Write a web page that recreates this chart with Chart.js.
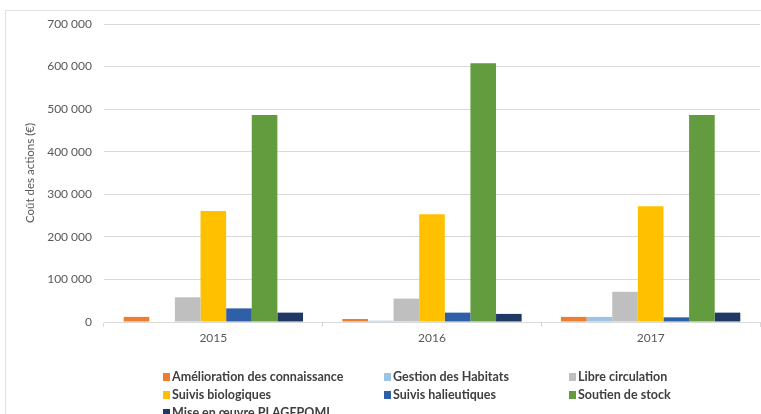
<!DOCTYPE html>
<html>
<head>
<meta charset="utf-8">
<script src="https://cdn.jsdelivr.net/npm/chart.js@4/dist/chart.umd.min.js"></script>
<style>
html,body{margin:0;padding:0;background:#fff;}
#wrap{position:relative;width:761px;height:414px;overflow:hidden;}
canvas{display:block;}
</style>
</head>
<body>
<div id="wrap"><canvas id="c" width="761" height="414"></canvas></div>
<script>
const categories = ["2015", "2016", "2017"];
const seriesNames = [
  "Amélioration des connaissance",
  "Gestion des Habitats",
  "Libre circulation",
  "Suivis biologiques",
  "Suivis halieutiques",
  "Soutien de stock",
  "Mise en œuvre PLAGEPOMI"
];
const amelioration = [12000, 7000, 12000];
const gestionHabitats = [0, 3000, 12000];
const libreCirculation = [58000, 55000, 71000];
const suivisBiologiques = [261000, 253000, 272000];
const suivisHalieutiques = [32000, 22000, 11000];
const soutienStock = [486000, 608000, 486000];
const plagepomi = [22000, 19000, 22000];
const yTicks = [0, 100000, 200000, 300000, 400000, 500000, 600000, 700000];
const seriesColors = ["#ED7D31", "#9DC3E6", "#BFBFBF", "#FFC000", "#2F5FA8", "#629C3E", "#1F3864"];

const seriesValues = [amelioration, gestionHabitats, libreCirculation, suivisBiologiques, suivisHalieutiques, soutienStock, plagepomi];

const fmt = v => String(v).replace(/\B(?=(\d{3})+(?!\d))/g, " ");
const FONT = 'Lato, "Open Sans", sans-serif';

const framePlugin = {
  id: 'frame',
  beforeDraw(chart) {
    const ctx = chart.ctx;
    ctx.save();
    ctx.fillStyle = '#fff';
    ctx.fillRect(0, 0, chart.width, chart.height);
    ctx.strokeStyle = '#e2e2e2';
    ctx.lineWidth = 1;
    ctx.strokeRect(5.5, 10.5, chart.width, chart.height);
    ctx.restore();
  }
};

const gridLegend = {
  id: 'gridLegend',
  afterDraw(chart) {
    const ctx = chart.ctx;
    const colX = [163, 384, 569];
    const rowY0 = 377, rowH = 18;
    ctx.save();
    ctx.font = 'bold 12.5px ' + FONT;
    ctx.textBaseline = 'middle';
    chart.data.datasets.forEach((ds, i) => {
      const col = i % 3, row = Math.floor(i / 3);
      const x = colX[col], y = rowY0 + row * rowH;
      ctx.fillStyle = ds.backgroundColor;
      ctx.fillRect(x, y - 4, 7, 8);
      ctx.fillStyle = '#404040';
      ctx.fillText(ds.label, x + 9, y);
    });
    ctx.restore();
  }
};

new Chart(document.getElementById('c'), {
  type: 'bar',
  data: {
    labels: categories,
    datasets: seriesNames.map((name, i) => ({
      label: name,
      data: seriesValues[i],
      backgroundColor: seriesColors[i],
      borderWidth: 0,
      categoryPercentage: 0.82,
      barPercentage: 1.0
    }))
  },
  options: {
    responsive: false,
    animation: false,
    devicePixelRatio: 1,
    layout: { padding: { left: 5, right: 1, top: 24, bottom: 62 } },
    plugins: {
      legend: { display: false },
      tooltip: { enabled: false }
    },
    scales: {
      x: {
        grid: { display: true, drawOnChartArea: false, drawTicks: true, tickLength: 5, color: '#d9d9d9', offset: true },
        border: { display: true, color: '#d9d9d9' },
        ticks: { color: '#595959', font: { size: 12, family: FONT }, padding: 4 },
        afterFit(s) { s.height = 30; }
      },
      y: {
        min: 0, max: 700000,
        afterBuildTicks(s) { s.ticks = yTicks.map(v => ({ value: v })); },
        grid: { color: '#d9d9d9', drawTicks: false },
        border: { display: false },
        ticks: { color: '#595959', font: { size: 12, family: FONT }, padding: 12, callback: v => fmt(v) },
        title: { display: true, text: 'Coût des actions (€)', color: '#595959', font: { size: 11.5, family: FONT }, padding: { top: 18, bottom: 0 } },
        afterFit(s) { s.width = 99; }
      }
    }
  },
  plugins: [framePlugin, gridLegend]
});
</script>
</body>
</html>
